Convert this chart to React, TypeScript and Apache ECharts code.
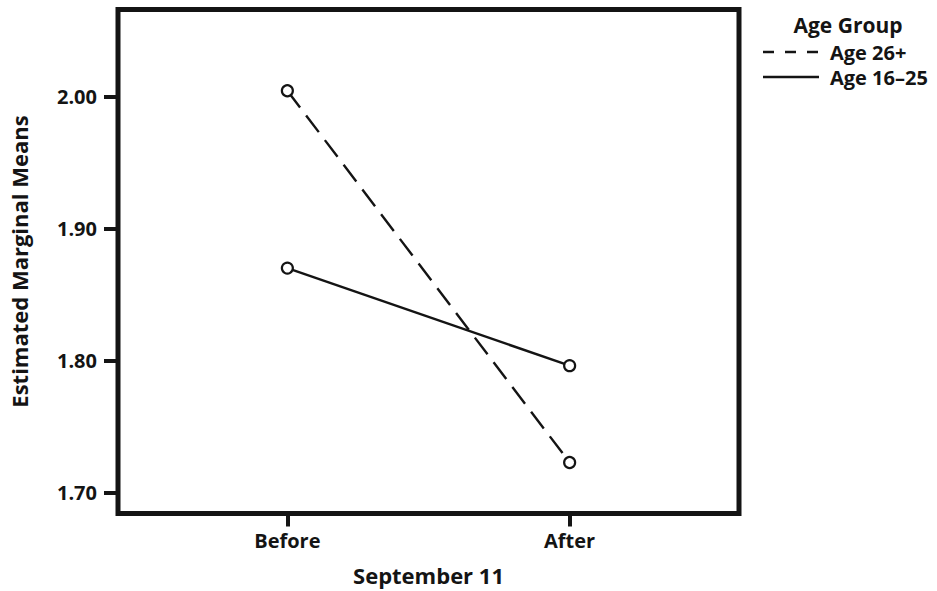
import React, { useEffect, useRef } from "react";
import * as echarts from "echarts";

const categories = ["Before", "After"];
const age26plus = [2.0045, 1.7226];
const age16to25 = [1.870, 1.796];
const yTicks = [1.7, 1.8, 1.9, 2.0];
const seriesNames = ["Age 26+", "Age 16\u201325"];
const legendTitle = "Age Group";
const xTitle = "September 11";
const yTitle = "Estimated Marginal Means";

const FONT = "'Open Sans', 'Noto Sans', sans-serif";
const INK = "#141414";

export default function App() {
  const ref = useRef<HTMLDivElement>(null);
  useEffect(() => {
    if (!ref.current) return;
    const chart = echarts.init(ref.current, null, { renderer: "svg" });
    const toPts = (vals: number[]) => vals.map((v, i) => [i + 1, v]);
    const lineSeries = (name: string, vals: number[], dashed: boolean) => ({
      name,
      type: "line",
      data: toPts(vals),
      symbol: "circle",
      symbolSize: 11,
      itemStyle: { color: "#fff", borderColor: INK, borderWidth: 2.2 },
      lineStyle: { color: INK, width: 2.4, type: dashed ? [21, 10] : "solid" },
      z: 3,
    });
    chart.setOption({
      animation: false,
      backgroundColor: "#fff",
      textStyle: { fontFamily: FONT },
      grid: {
        left: 113.5,
        top: 9.5,
        right: 937 - 739,
        bottom: 591 - 513.5,
        show: true,
        borderColor: INK,
        borderWidth: 5,
        backgroundColor: "transparent",
      },
      xAxis: {
        type: "value",
        min: 0.4,
        max: 2.6,
        name: xTitle,
        nameLocation: "middle",
        nameGap: 50,
        nameTextStyle: { fontFamily: FONT, fontWeight: "bold", fontSize: 22, color: INK },
        axisLine: { show: false },
        splitLine: { show: false },
        axisTick: {
          show: true,
          customValues: [1, 2],
          length: 13,
          lineStyle: { color: INK, width: 4 },
        },
        axisLabel: {
          customValues: [1, 2],
          formatter: (v: number) => categories[Math.round(v) - 1] ?? "",
          margin: 17,
          fontFamily: FONT,
          fontWeight: "bold",
          fontSize: 20,
          color: INK,
        },
      },
      yAxis: {
        type: "value",
        min: 1.6839,
        max: 2.0661,
        name: yTitle,
        nameLocation: "middle",
        nameGap: 88,
        nameRotate: 90,
        nameTextStyle: { fontFamily: FONT, fontWeight: "bold", fontSize: 22, color: INK },
        axisLine: { show: false },
        splitLine: { show: false },
        axisTick: {
          show: true,
          customValues: yTicks,
          length: 14,
          lineStyle: { color: INK, width: 4 },
        },
        axisLabel: {
          customValues: yTicks,
          formatter: (v: number) => v.toFixed(2),
          margin: 21,
          fontFamily: FONT,
          fontWeight: "bold",
          fontSize: 20,
          color: INK,
        },
      },
      series: [
        lineSeries(seriesNames[0], age26plus, true),
        lineSeries(seriesNames[1], age16to25, false),
      ],
      graphic: [
        {
          type: "text",
          x: 848,
          y: 25,
          style: {
            text: legendTitle,
            font: `bold 21px ${FONT}`,
            fill: INK,
            align: "center",
            verticalAlign: "middle",
          },
        },
        {
          type: "line",
          shape: { x1: 763, y1: 52, x2: 819, y2: 52 },
          style: { stroke: INK, lineWidth: 2.4, lineDash: [11, 11] },
        },
        {
          type: "text",
          x: 830,
          y: 52,
          style: {
            text: seriesNames[0],
            font: `bold 20px ${FONT}`,
            fill: INK,
            verticalAlign: "middle",
          },
        },
        {
          type: "line",
          shape: { x1: 763, y1: 77, x2: 819, y2: 77 },
          style: { stroke: INK, lineWidth: 2.4 },
        },
        {
          type: "text",
          x: 830,
          y: 77,
          style: {
            text: seriesNames[1],
            font: `bold 20px ${FONT}`,
            fill: INK,
            verticalAlign: "middle",
          },
        },
      ],
    });
    return () => chart.dispose();
  }, []);
  return (
    <div
      ref={ref}
      style={{ position: "fixed", left: 0, top: 0, width: 937, height: 591, background: "#fff" }}
    />
  );
}
